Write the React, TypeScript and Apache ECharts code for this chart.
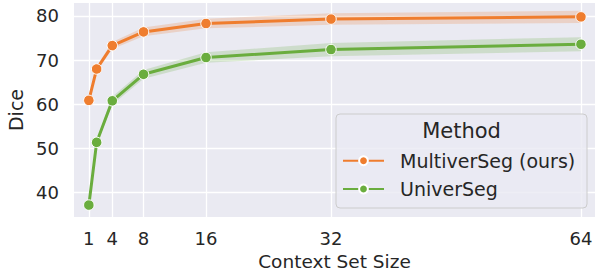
import React, { useEffect, useRef } from "react";
import * as echarts from "echarts";

const contextSizes = [1, 2, 4, 8, 16, 32, 64];
const xTicks = [1, 4, 8, 16, 32, 64];
const yTicks = [40, 50, 60, 70, 80];
const multiverSeg = [60.9, 68.0, 73.3, 76.4, 78.3, 79.3, 79.8];
const multiverSegErr = [0.4, 0.6, 0.8, 1.0, 1.1, 1.3, 1.4];
const univerSeg = [37.2, 51.4, 60.8, 66.8, 70.6, 72.4, 73.6];
const univerSegErr = [0.4, 0.6, 0.9, 1.0, 1.2, 1.5, 1.6];

const ORANGE = "#EF7D2E";
const GREEN = "#6AAD3E";
const FONT = "DejaVu Sans";
const TEXT = "#262626";

function bandSeries(name: string, vals: number[], err: number[], color: string) {
  return {
    type: "custom",
    name,
    silent: true,
    z: 1,
    data: contextSizes.map((x, i) => [x, vals[i] - err[i], vals[i] + err[i]]),
    encode: { x: 0, y: [1, 2] },
    renderItem: (params: any, api: any) => {
      if (params.dataIndex !== 0) return null;
      const upper = contextSizes.map((x, i) => api.coord([x, vals[i] + err[i]]));
      const lower = contextSizes
        .map((x, i) => api.coord([x, vals[i] - err[i]]))
        .reverse();
      return {
        type: "polygon",
        shape: { points: upper.concat(lower) },
        style: { fill: color, opacity: 0.22 },
      };
    },
  };
}

function lineSeries(name: string, vals: number[], color: string) {
  return {
    type: "line",
    name,
    z: 3,
    data: contextSizes.map((x, i) => [x, vals[i]]),
    symbol: "circle",
    symbolSize: 10.5,
    lineStyle: { width: 3, color },
    itemStyle: { color, borderColor: "#ffffff", borderWidth: 1 },
  };
}

export default function App() {
  const ref = useRef<HTMLDivElement>(null);
  useEffect(() => {
    if (!ref.current) return;
    document.body.style.margin = "0";
    document.body.style.overflow = "hidden";
    const chart = echarts.init(ref.current, null, { renderer: "svg" });
    chart.setOption({
      animation: false,
      backgroundColor: "#ffffff",
      textStyle: { fontFamily: FONT },
      grid: {
        left: 74,
        right: 0,
        top: 3,
        bottom: 58,
        show: true,
        backgroundColor: "#EAEAF2",
        borderWidth: 0,
        containLabel: false,
        outerBoundsMode: "none",
      },
      xAxis: {
        type: "value",
        min: -0.9,
        max: 65.8,
        name: "Context Set Size",
        nameLocation: "middle",
        nameGap: 33,
        nameTextStyle: { fontSize: 18.5, color: TEXT, fontFamily: FONT },
        axisLine: { show: false },
        axisTick: { show: false, customValues: xTicks },
        axisLabel: {
          customValues: xTicks,
          fontSize: 18,
          color: TEXT,
          fontFamily: FONT,
          margin: 12,
        },
        splitLine: { show: true, lineStyle: { color: "#ffffff", width: 1.3 } },
      },
      yAxis: {
        type: "value",
        min: 34.5,
        max: 82.94,
        name: "Dice",
        nameLocation: "middle",
        nameGap: 47,
        nameTextStyle: { fontSize: 19, color: TEXT, fontFamily: FONT },
        axisLine: { show: false },
        axisTick: { show: false, customValues: yTicks },
        axisLabel: {
          customValues: yTicks,
          fontSize: 18,
          color: TEXT,
          fontFamily: FONT,
          margin: 15,
        },
        splitLine: { show: true, lineStyle: { color: "#ffffff", width: 1.3 } },
      },
      legend: {
        data: ["MultiverSeg (ours)", "UniverSeg"],
        orient: "vertical",
        left: 342,
        top: 150.2,
        itemWidth: 41,
        itemHeight: 11,
        itemGap: 7.3,
        padding: 0,
        z: 5,
        textStyle: {
          fontSize: 19,
          lineHeight: 21,
          color: TEXT,
          fontFamily: FONT,
          padding: [0, 0, 0, 11],
        },
      },
      graphic: [
        {
          type: "rect",
          z: 4,
          shape: { x: 336, y: 114, width: 251, height: 94, r: 4 },
          style: { fill: "rgba(234,234,242,0.8)", stroke: "#CCCCCC", lineWidth: 1 },
        },
        {
          type: "text",
          z: 5,
          x: 461.5,
          y: 131,
          style: {
            text: "Method",
            fontSize: 21,
            fontFamily: FONT,
            fill: TEXT,
            align: "center",
            verticalAlign: "middle",
          },
        },
      ],
      series: [
        bandSeries("band-multiverseg", multiverSeg, multiverSegErr, ORANGE),
        bandSeries("band-universeg", univerSeg, univerSegErr, GREEN),
        lineSeries("MultiverSeg (ours)", multiverSeg, ORANGE),
        lineSeries("UniverSeg", univerSeg, GREEN),
      ],
    });
    return () => chart.dispose();
  }, []);
  return (
    <div
      ref={ref}
      style={{ width: 595, height: 275, position: "absolute", left: 0, top: 0 }}
    />
  );
}
